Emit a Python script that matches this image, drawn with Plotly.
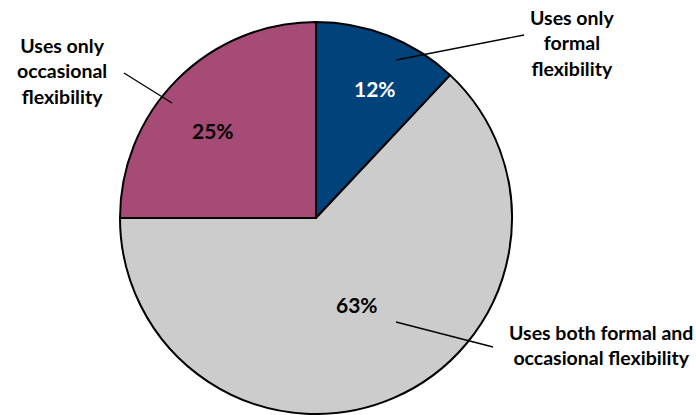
import plotly.graph_objects as go

labels = ["Uses only formal flexibility", "Uses both formal and occasional flexibility", "Uses only occasional flexibility"]
values = [12, 63, 25]
colors = ["#00427A", "#CCCCCC", "#A64B75"]
pct_text = ["12%", "63%", "25%"]

W, H = 696, 415
def px(x): return x / W
def py(y): return 1 - y / H

fig = go.Figure(go.Pie(
    labels=labels, values=values, sort=False, direction="clockwise", rotation=0,
    marker=dict(colors=colors, line=dict(color="#000000", width=2)),
    textinfo="none", hoverinfo="label+percent", showlegend=False,
    domain=dict(x=[px(120), px(512)], y=[py(414), py(22)]),
))

FONT = "Lato, 'Open Sans', sans-serif"
ann = []
# percentage labels
pct_pos = [(375, 88, "white"), (357, 304, "black"), (213, 130, "black")]
for t, (x, y, c) in zip(pct_text, pct_pos):
    ann.append(dict(x=px(x), y=py(y), xref="paper", yref="paper", text="<b>" + t + "</b>", showarrow=False,
                    font=dict(family=FONT, size=21, color=c), xanchor="center", yanchor="middle"))
# category labels
cat_pos = [(572, 43, "Uses only<br>formal<br>flexibility"),
           (601, 345, "Uses both formal and<br>occasional flexibility"),
           (62, 71, "Uses only<br>occasional<br>flexibility")]
for x, y, t in cat_pos:
    ann.append(dict(x=px(x), y=py(y), xref="paper", yref="paper", text="<b>" + t + "</b>", showarrow=False,
                    font=dict(family=FONT, size=19.5, color="black"), xanchor="center", yanchor="middle",
                    align="center"))

shapes = []
lines = [((396, 60), (524, 35)), ((396, 322), (493, 347)), ((124, 73), (172, 103))]
for (x0, y0), (x1, y1) in lines:
    shapes.append(dict(type="line", xref="paper", yref="paper", x0=px(x0), y0=py(y0), x1=px(x1), y1=py(y1),
                       line=dict(color="black", width=1.3)))

fig.update_layout(width=W, height=H, margin=dict(l=0, r=0, t=0, b=0),
                  paper_bgcolor="white", plot_bgcolor="white",
                  annotations=ann, shapes=shapes)
fig.write_html("out.html")
